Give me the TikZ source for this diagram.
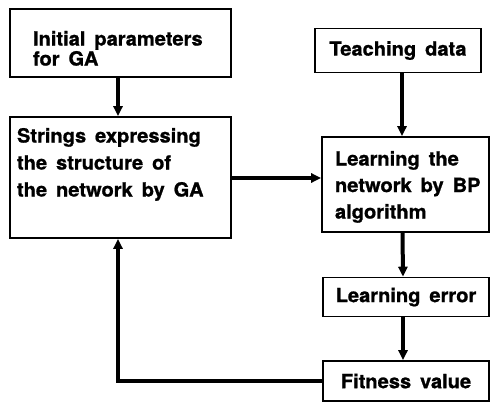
\documentclass[tikz,border=0pt]{standalone}
\usepackage{fontspec}
\setmainfont[WordSpace=1.6, BoldFeatures={FakeBold=1, FakeStretch=1.03}]{TeX Gyre Heros}
\usetikzlibrary{positioning, arrows.meta}

\begin{document}
\begin{tikzpicture}[x=1pt, y=-1pt,
    block/.style={rectangle, draw=black, line width=1.6pt, inner ysep=0pt,
        font=\bfseries\fontsize{19.5}{26.5}\selectfont},
    flow/.style={line width=4pt, -{Triangle[length=10pt, width=9pt]}}]

\useasboundingbox (0,0) rectangle (490,404);

% GA side
\node[block, inner xsep=23pt] (init) at (120.5,43) {%
    \parbox[c][68pt][t]{175pt}{\fontsize{19.5}{20}\selectfont\raggedright\vspace*{22pt}%
    Initial parameters\\
    for GA}%
};

\node[block, inner xsep=7pt] (strings) at (120.5,177.5) {%
    \parbox[c][121pt][t]{207pt}{\fontsize{19.5}{27}\selectfont\raggedright\vspace*{11pt}%
    Strings expressing\\
    the structure of\\
    the network by GA}%
};

% BP side
\node[block, minimum width=166pt, minimum height=44pt, align=center] (teach) at (398,50.5) {Teaching data};

\node[block, inner xsep=6pt] (learn) at (405.5,184.5) {%
    \parbox[c][95pt][t]{155pt}{\raggedright\leftskip=7pt\vspace*{14pt}%
    Learning the\\
    network by BP\\
    algorithm}%
};

\node[block, minimum width=166pt, minimum height=39pt, align=center] (error) at (406,297) {Learning error};

\node[block, minimum width=166pt, minimum height=40pt, align=center] (fitness) at (406,381) {Fitness value};

% Arrows
\draw[flow] ([xshift=-2.5pt]init.south) -- ([xshift=-2.5pt]strings.north);
\draw[flow] ([xshift=4pt]teach.south) -- ([xshift=4pt]teach.south |- learn.north);
\draw[flow] (strings.east |- 0,178) -- (learn.west |- 0,178);
\draw[flow] ([xshift=-3pt]learn.south) -- ([xshift=-3pt]error.north);
\draw[flow] ([xshift=-3pt]error.south) -- ([xshift=-3pt]fitness.north);

% Feedback of fitness to GA
\draw[flow] (fitness.west) -- ([xshift=-2.5pt]strings.south |- fitness.west) -- ([xshift=-2.5pt]strings.south);

\end{tikzpicture}
\end{document}
